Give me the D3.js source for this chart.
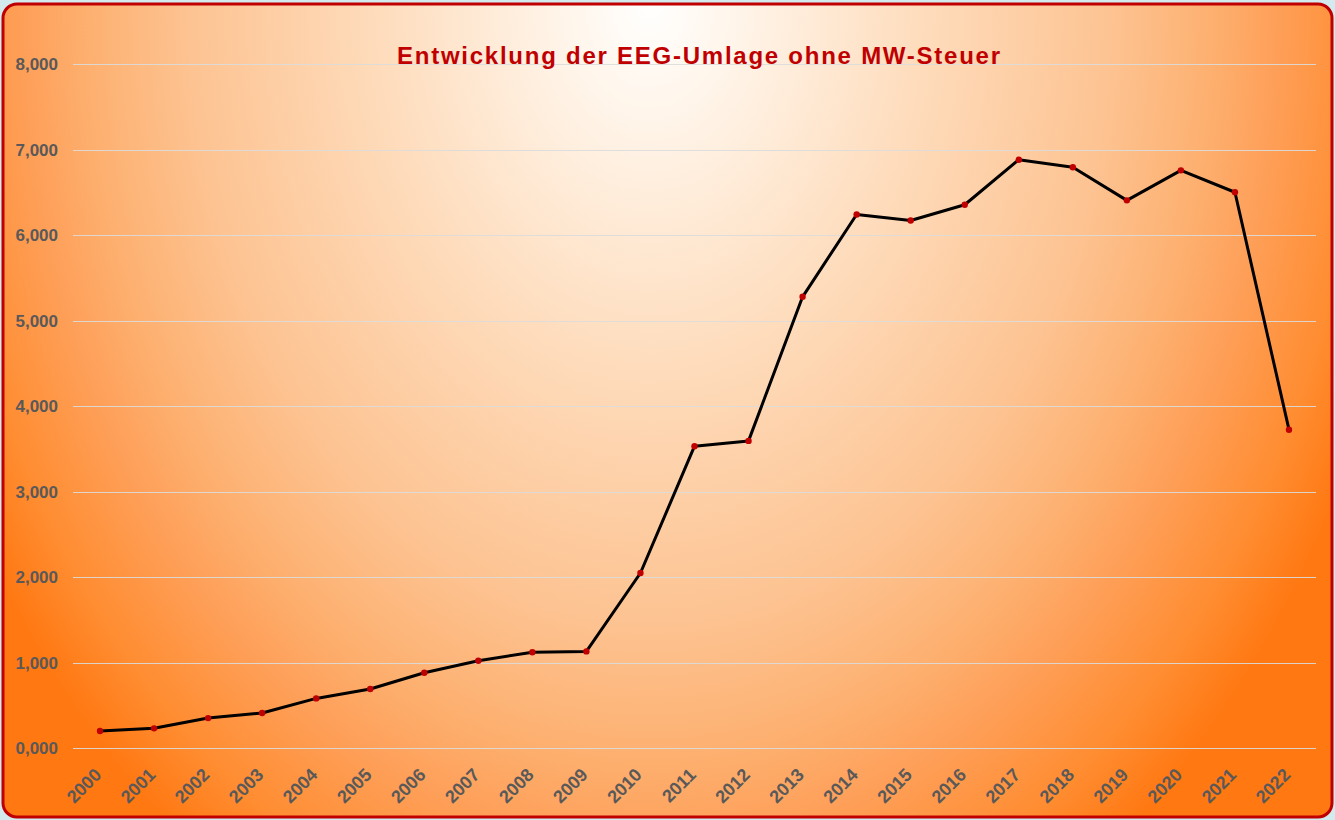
<!DOCTYPE html>
<html>
<head>
<meta charset="utf-8">
<script src="https://cdn.jsdelivr.net/npm/d3@7"></script>
<style>
	html, body { margin: 0; padding: 0; background: #d3eaee; }
	svg { display: block; }
</style>
</head>
<body>
<div id="chart"></div>
<script>
// EEG-Umlage, ct/kWh ohne MwSt.
var years = ["2000","2001","2002","2003","2004","2005","2006","2007","2008","2009","2010",
	"2011","2012","2013","2014","2015","2016","2017","2018","2019","2020","2021","2022"];
var umlage = [0.199, 0.23, 0.35, 0.41, 0.58, 0.69, 0.88, 1.02, 1.12, 1.13, 2.047,
	3.53, 3.592, 5.277, 6.24, 6.17, 6.354, 6.88, 6.792, 6.405, 6.756, 6.5, 3.723];
var yTicks = [0, 1, 2, 3, 4, 5, 6, 7, 8];

var width = 1335, height = 820;
var margin = {left: 73, right: 19, top: 64, bottom: 72};

var svg = d3.select("#chart").append("svg")
	.attr("width", width)
	.attr("height", height);

// background: white at top centre, orange towards the edges
var defs = svg.append("defs");
var grad = defs.append("radialGradient")
	.attr("id", "bg")
	.attr("gradientUnits", "userSpaceOnUse")
	.attr("cx", 650).attr("cy", 0).attr("r", 1)
	.attr("gradientTransform", "translate(650,0) scale(780,1050) translate(-650,0)");
[[0, "#ffffff"], [0.1, "#fff6ec"], [0.35, "#fedcbc"], [0.6, "#fdc290"],
 [0.72, "#fdb070"], [0.8, "#fea05a"], [0.92, "#ff8c30"], [1, "#ff7812"]].forEach(function(s){
	grad.append("stop").attr("offset", s[0]).attr("stop-color", s[1]);
});

// frame
svg.append("rect")
	.attr("x", 3).attr("y", 4)
	.attr("width", width - 6).attr("height", height - 7)
	.attr("rx", 14).attr("ry", 14)
	.attr("fill", "url(#bg)")
	.attr("stroke", "#c00000")
	.attr("stroke-width", 3);

var x = d3.scalePoint()
	.domain(years)
	.range([100, 1289]);

var y = d3.scaleLinear()
	.domain([0, 8])
	.range([height - margin.bottom, margin.top]);

var fmt = function(v){ return d3.format(",.3f")(v).replace(".", ","); };

// gridlines
svg.append("g")
	.selectAll("line")
	.data(yTicks)
	.enter().append("line")
	.attr("x1", margin.left)
	.attr("x2", width - margin.right)
	.attr("y1", d => Math.round(y(d)) + 0.5)
	.attr("y2", d => Math.round(y(d)) + 0.5)
	.attr("stroke", "#dcdcdc")
	.attr("stroke-opacity", 0.9)
	.attr("stroke-width", 1);

// y axis
var yAxis = svg.append("g")
	.attr("transform", "translate(58,0)")
	.call(d3.axisLeft(y).tickValues(yTicks).tickFormat(fmt).tickSize(0).tickPadding(0));
yAxis.select(".domain").remove();
yAxis.selectAll("text")
	.attr("fill", "#595959")
	.attr("font-family", "'Liberation Sans', Arial, sans-serif")
	.attr("font-weight", "bold")
	.attr("font-size", 17)
	.attr("dy", "0.35em");

// x axis
var xAxis = svg.append("g")
	.attr("transform", "translate(0," + y(0) + ")")
	.call(d3.axisBottom(x).tickSize(0).tickPadding(0));
xAxis.select(".domain").remove();
xAxis.selectAll("text")
	.attr("fill", "#595959")
	.attr("font-family", "'Liberation Sans', Arial, sans-serif")
	.attr("font-weight", "bold")
	.attr("font-size", 18)
	.attr("text-anchor", "end")
	.attr("dy", 0)
	.attr("transform", "translate(2,28) rotate(-45)");

// line
var line = d3.line()
	.x((d, i) => x(years[i]))
	.y(d => y(d));

svg.append("path")
	.datum(umlage)
	.attr("d", line)
	.attr("fill", "none")
	.attr("stroke", "#000")
	.attr("stroke-width", 3)
	.attr("stroke-linejoin", "round");

svg.append("g")
	.selectAll("circle")
	.data(umlage)
	.enter().append("circle")
	.attr("cx", (d, i) => x(years[i]))
	.attr("cy", d => y(d))
	.attr("r", 3.2)
	.attr("fill", "#c00000");

// title
svg.append("text")
	.attr("x", 698.5)
	.attr("y", 64)
	.attr("text-anchor", "middle")
	.attr("fill", "#c00000")
	.attr("font-family", "'Liberation Sans', Arial, sans-serif")
	.attr("font-weight", "bold")
	.attr("font-size", 24)
	.attr("textLength", 603)
	.attr("lengthAdjust", "spacing")
	.text("Entwicklung der EEG-Umlage ohne MW-Steuer");
</script>
</body>
</html>
